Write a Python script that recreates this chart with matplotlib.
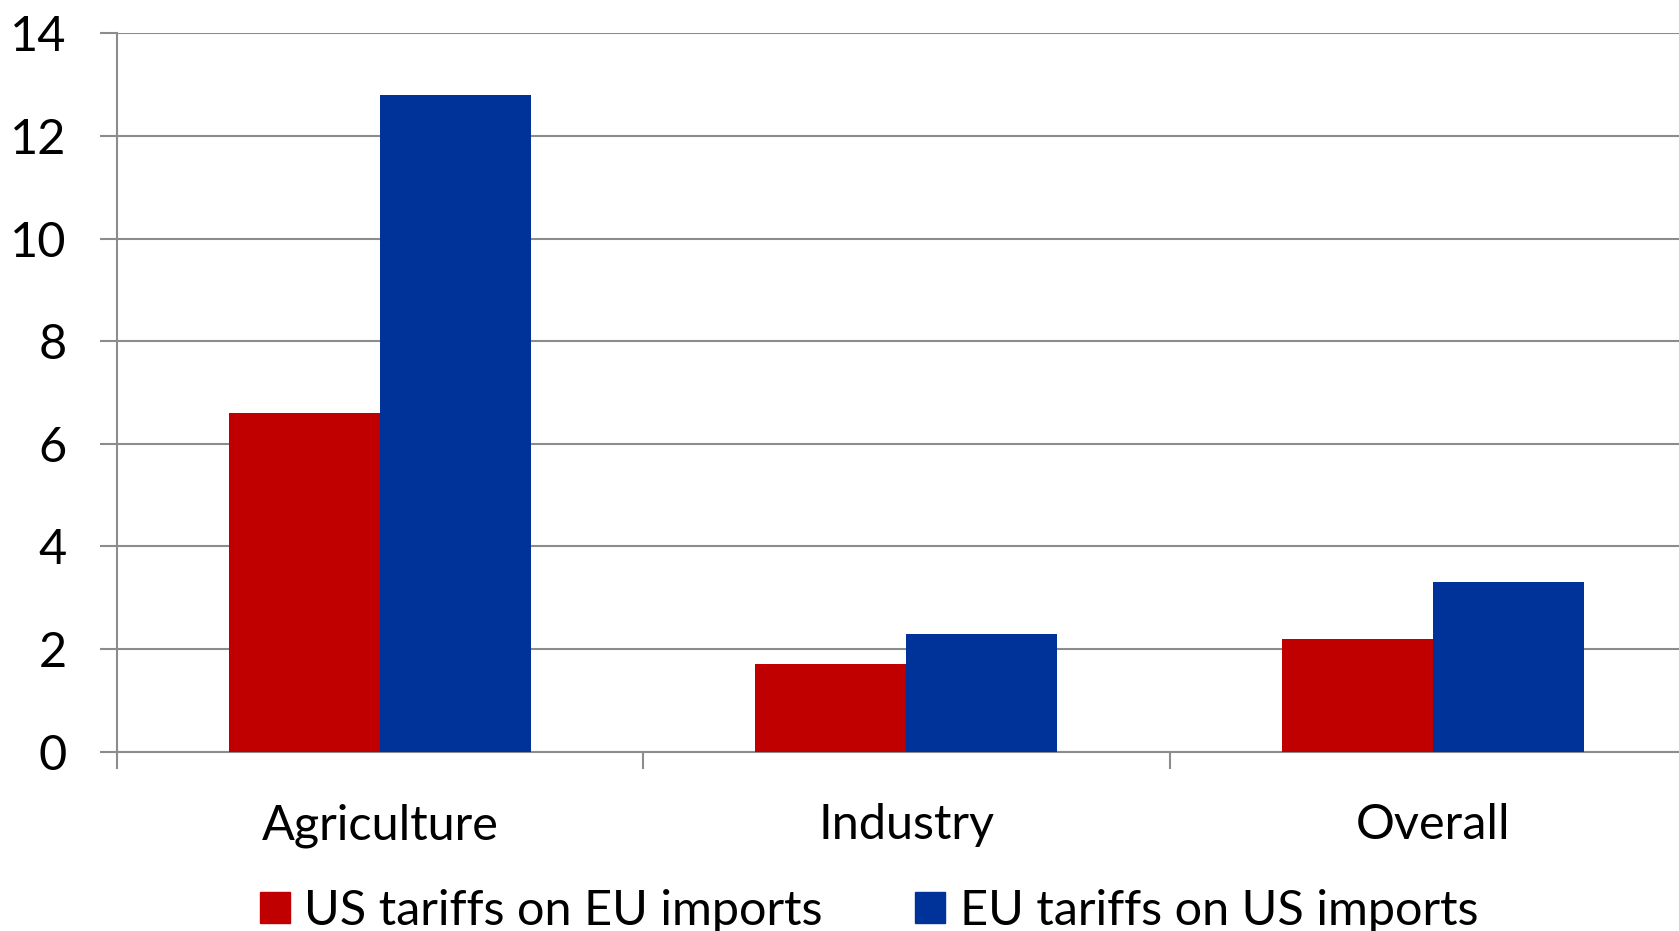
import matplotlib
matplotlib.use("Agg")
import matplotlib.pyplot as plt
from matplotlib.patches import Patch
import numpy as np

categories = ["Agriculture", "Industry", "Overall"]
us_on_eu = [6.6, 1.7, 2.2]
eu_on_us = [12.8, 2.3, 3.3]
series_labels = ["US tariffs on EU imports", "EU tariffs on US imports"]
y_ticks = [0, 2, 4, 6, 8, 10, 12, 14]

RED = "#C00000"
BLUE = "#003399"
GRID = "#8C8C8C"

plt.rcParams["font.family"] = ["Lato", "DejaVu Sans"]

fig = plt.figure(figsize=(16.79, 9.31), dpi=100)
ax = fig.add_axes([0.0695, 0.1926, 0.9406, 0.7717])

x = np.arange(len(categories))
w = 0.287
ax.bar(x - w / 2, us_on_eu, width=w, color=RED, label=series_labels[0], zorder=3)
ax.bar(x + w / 2, eu_on_us, width=w, color=BLUE, label=series_labels[1], zorder=3)

ax.set_xlim(-0.5, len(categories) - 0.5)
ax.set_ylim(0, 14)
ax.set_yticks(y_ticks)
ax.set_yticklabels([str(v) for v in y_ticks])

ax.yaxis.grid(True, color=GRID, linewidth=1.5)
ax.set_axisbelow(True)

for s in ["top", "right"]:
    ax.spines[s].set_visible(False)
for s in ["left", "bottom"]:
    ax.spines[s].set_color(GRID)
    ax.spines[s].set_linewidth(1.5)

# category boundaries carry the tick marks, centres carry the labels
ax.set_xticks(np.arange(len(categories) + 1) - 0.5)
ax.set_xticklabels([])
ax.set_xticks(x, minor=True)
ax.set_xticklabels(categories, minor=True)
ax.tick_params(axis="x", which="major", length=12, width=1.5, color=GRID, direction="out")
ax.tick_params(axis="x", which="minor", length=0, pad=37, labelsize=35)
ax.tick_params(axis="y", length=12, width=1.5, color=GRID, pad=24, labelsize=35)

handles = [Patch(color=RED), Patch(color=BLUE)]
fig.legend(handles, series_labels, loc="center", bbox_to_anchor=(0.5176, 0.022),
           ncol=2, frameon=False, fontsize=35, handlelength=0.62, handleheight=0.62,
           handletextpad=0.3, columnspacing=1.9, borderpad=0, borderaxespad=0)

fig.savefig("out.png", dpi=100)
